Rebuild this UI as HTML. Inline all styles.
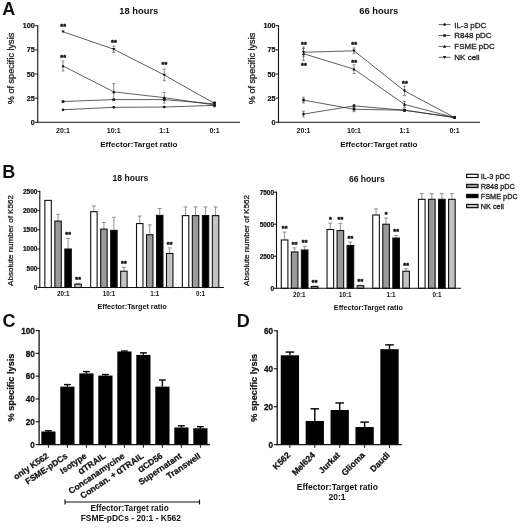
<!DOCTYPE html>
<html lang="en">
<head>
<meta charset="utf-8">
<title>Figure</title>
<style>
html,body{margin:0;padding:0;background:#fff;}
body{width:520px;height:529px;overflow:hidden;}
svg{display:block;font-family:"Liberation Sans", Arial, Helvetica, sans-serif;}
</style>
</head>
<body>
<svg width="520" height="529" viewBox="0 0 520 529" font-family='"Liberation Sans", Arial, Helvetica, sans-serif'>
<rect x="0" y="0" width="520" height="529" fill="#ffffff"/>
<text x="2.20" y="14.90" font-size="18" font-weight="bold" text-anchor="start" fill="#111">A</text>
<line x1="37.75" y1="25.20" x2="37.75" y2="122.80" stroke="#111" stroke-width="1.1"/>
<line x1="37.25" y1="122.30" x2="240.00" y2="122.30" stroke="#111" stroke-width="1.1"/>
<line x1="35.15" y1="122.30" x2="37.75" y2="122.30" stroke="#111" stroke-width="1.0"/>
<text x="34.75" y="124.90" font-size="7.2" font-weight="bold" text-anchor="end" fill="#111" stroke="#111" stroke-width="0.22">0</text>
<line x1="35.15" y1="98.15" x2="37.75" y2="98.15" stroke="#111" stroke-width="1.0"/>
<text x="34.75" y="100.75" font-size="7.2" font-weight="bold" text-anchor="end" fill="#111" stroke="#111" stroke-width="0.22">25</text>
<line x1="35.15" y1="74.00" x2="37.75" y2="74.00" stroke="#111" stroke-width="1.0"/>
<text x="34.75" y="76.60" font-size="7.2" font-weight="bold" text-anchor="end" fill="#111" stroke="#111" stroke-width="0.22">50</text>
<line x1="35.15" y1="49.85" x2="37.75" y2="49.85" stroke="#111" stroke-width="1.0"/>
<text x="34.75" y="52.45" font-size="7.2" font-weight="bold" text-anchor="end" fill="#111" stroke="#111" stroke-width="0.22">75</text>
<line x1="35.15" y1="25.70" x2="37.75" y2="25.70" stroke="#111" stroke-width="1.0"/>
<text x="34.75" y="28.30" font-size="7.2" font-weight="bold" text-anchor="end" fill="#111" stroke="#111" stroke-width="0.22">100</text>
<text x="63.00" y="132.50" font-size="7.0" font-weight="bold" text-anchor="middle" fill="#111">20:1</text>
<text x="113.75" y="132.50" font-size="7.0" font-weight="bold" text-anchor="middle" fill="#111">10:1</text>
<text x="164.25" y="132.50" font-size="7.0" font-weight="bold" text-anchor="middle" fill="#111">1:1</text>
<text x="214.50" y="132.50" font-size="7.0" font-weight="bold" text-anchor="middle" fill="#111">0:1</text>
<text x="138.80" y="146.90" font-size="8.1" font-weight="bold" text-anchor="middle" fill="#111">Effector:Target ratio</text>
<text x="138.80" y="14.30" font-size="9.4" font-weight="bold" text-anchor="middle" fill="#111">18 hours</text>
<text x="14.25" y="68.50" font-size="9.15" font-weight="normal" text-anchor="middle" fill="#111" transform="rotate(-90 14.25 68.50)" stroke="#222" stroke-width="0.28">% of specific lysis</text>
<polyline fill="none" stroke="#2a2a2a" stroke-width="0.75" points="63.00,109.74 113.75,107.33 164.25,107.04 214.50,105.39"/>
<circle cx="63.00" cy="109.74" r="1.30" fill="#111"/>
<circle cx="113.75" cy="107.33" r="1.30" fill="#111"/>
<circle cx="164.25" cy="107.04" r="1.30" fill="#111"/>
<circle cx="214.50" cy="105.39" r="1.30" fill="#111"/>
<polyline fill="none" stroke="#2a2a2a" stroke-width="0.75" points="63.00,101.53 113.75,99.60 164.25,99.60 214.50,103.95"/>
<line x1="164.25" y1="98.83" x2="164.25" y2="100.37" stroke="#444" stroke-width="0.6"/>
<line x1="162.75" y1="98.83" x2="165.75" y2="98.83" stroke="#444" stroke-width="0.6"/>
<line x1="162.75" y1="100.37" x2="165.75" y2="100.37" stroke="#444" stroke-width="0.6"/>
<line x1="214.50" y1="101.82" x2="214.50" y2="106.07" stroke="#444" stroke-width="0.6"/>
<line x1="213.00" y1="101.82" x2="216.00" y2="101.82" stroke="#444" stroke-width="0.6"/>
<line x1="213.00" y1="106.07" x2="216.00" y2="106.07" stroke="#444" stroke-width="0.6"/>
<rect x="61.70" y="100.23" width="2.60" height="2.60" fill="#111"/>
<rect x="112.45" y="98.30" width="2.60" height="2.60" fill="#111"/>
<rect x="162.95" y="98.30" width="2.60" height="2.60" fill="#111"/>
<rect x="213.20" y="102.65" width="2.60" height="2.60" fill="#111"/>
<polyline fill="none" stroke="#2a2a2a" stroke-width="0.75" points="63.00,65.98 113.75,91.87 164.25,97.67 214.50,104.91"/>
<line x1="63.00" y1="60.96" x2="63.00" y2="71.01" stroke="#444" stroke-width="0.6"/>
<line x1="61.50" y1="60.96" x2="64.50" y2="60.96" stroke="#444" stroke-width="0.6"/>
<line x1="61.50" y1="71.01" x2="64.50" y2="71.01" stroke="#444" stroke-width="0.6"/>
<line x1="113.75" y1="83.66" x2="113.75" y2="100.08" stroke="#444" stroke-width="0.6"/>
<line x1="112.25" y1="83.66" x2="115.25" y2="83.66" stroke="#444" stroke-width="0.6"/>
<line x1="112.25" y1="100.08" x2="115.25" y2="100.08" stroke="#444" stroke-width="0.6"/>
<line x1="164.25" y1="92.35" x2="164.25" y2="102.98" stroke="#444" stroke-width="0.6"/>
<line x1="162.75" y1="92.35" x2="165.75" y2="92.35" stroke="#444" stroke-width="0.6"/>
<line x1="162.75" y1="102.98" x2="165.75" y2="102.98" stroke="#444" stroke-width="0.6"/>
<line x1="214.50" y1="102.98" x2="214.50" y2="106.84" stroke="#444" stroke-width="0.6"/>
<line x1="213.00" y1="102.98" x2="216.00" y2="102.98" stroke="#444" stroke-width="0.6"/>
<line x1="213.00" y1="106.84" x2="216.00" y2="106.84" stroke="#444" stroke-width="0.6"/>
<polygon points="61.40,67.28 64.60,67.28 63.00,64.38" fill="#111"/>
<polygon points="112.15,93.17 115.35,93.17 113.75,90.27" fill="#111"/>
<polygon points="162.65,98.97 165.85,98.97 164.25,96.07" fill="#111"/>
<polygon points="212.90,106.21 216.10,106.21 214.50,103.31" fill="#111"/>
<polyline fill="none" stroke="#2a2a2a" stroke-width="0.75" points="63.00,31.69 113.75,49.27 164.25,74.97 214.50,103.46"/>
<line x1="113.75" y1="46.18" x2="113.75" y2="52.36" stroke="#444" stroke-width="0.6"/>
<line x1="112.25" y1="46.18" x2="115.25" y2="46.18" stroke="#444" stroke-width="0.6"/>
<line x1="112.25" y1="52.36" x2="115.25" y2="52.36" stroke="#444" stroke-width="0.6"/>
<line x1="164.25" y1="69.17" x2="164.25" y2="80.76" stroke="#444" stroke-width="0.6"/>
<line x1="162.75" y1="69.17" x2="165.75" y2="69.17" stroke="#444" stroke-width="0.6"/>
<line x1="162.75" y1="80.76" x2="165.75" y2="80.76" stroke="#444" stroke-width="0.6"/>
<line x1="214.50" y1="102.01" x2="214.50" y2="104.91" stroke="#444" stroke-width="0.6"/>
<line x1="213.00" y1="102.01" x2="216.00" y2="102.01" stroke="#444" stroke-width="0.6"/>
<line x1="213.00" y1="104.91" x2="216.00" y2="104.91" stroke="#444" stroke-width="0.6"/>
<polygon points="61.40,30.39 64.60,30.39 63.00,33.29" fill="#111"/>
<polygon points="112.15,47.97 115.35,47.97 113.75,50.87" fill="#111"/>
<polygon points="162.65,73.67 165.85,73.67 164.25,76.57" fill="#111"/>
<polygon points="212.90,102.16 216.10,102.16 214.50,105.06" fill="#111"/>
<text x="63.30" y="29.02" font-size="7.2" font-weight="bold" text-anchor="middle" fill="#111" stroke="#111" stroke-width="0.45" letter-spacing="0.25">**</text>
<text x="114.00" y="45.02" font-size="7.2" font-weight="bold" text-anchor="middle" fill="#111" stroke="#111" stroke-width="0.45" letter-spacing="0.25">**</text>
<text x="63.30" y="60.02" font-size="7.2" font-weight="bold" text-anchor="middle" fill="#111" stroke="#111" stroke-width="0.45" letter-spacing="0.25">**</text>
<text x="164.60" y="67.02" font-size="7.2" font-weight="bold" text-anchor="middle" fill="#111" stroke="#111" stroke-width="0.45" letter-spacing="0.25">**</text>
<line x1="278.50" y1="25.20" x2="278.50" y2="122.80" stroke="#111" stroke-width="1.1"/>
<line x1="278.00" y1="122.30" x2="480.00" y2="122.30" stroke="#111" stroke-width="1.1"/>
<line x1="275.90" y1="122.30" x2="278.50" y2="122.30" stroke="#111" stroke-width="1.0"/>
<text x="275.50" y="124.90" font-size="7.2" font-weight="bold" text-anchor="end" fill="#111" stroke="#111" stroke-width="0.22">0</text>
<line x1="275.90" y1="98.15" x2="278.50" y2="98.15" stroke="#111" stroke-width="1.0"/>
<text x="275.50" y="100.75" font-size="7.2" font-weight="bold" text-anchor="end" fill="#111" stroke="#111" stroke-width="0.22">25</text>
<line x1="275.90" y1="74.00" x2="278.50" y2="74.00" stroke="#111" stroke-width="1.0"/>
<text x="275.50" y="76.60" font-size="7.2" font-weight="bold" text-anchor="end" fill="#111" stroke="#111" stroke-width="0.22">50</text>
<line x1="275.90" y1="49.85" x2="278.50" y2="49.85" stroke="#111" stroke-width="1.0"/>
<text x="275.50" y="52.45" font-size="7.2" font-weight="bold" text-anchor="end" fill="#111" stroke="#111" stroke-width="0.22">75</text>
<line x1="275.90" y1="25.70" x2="278.50" y2="25.70" stroke="#111" stroke-width="1.0"/>
<text x="275.50" y="28.30" font-size="7.2" font-weight="bold" text-anchor="end" fill="#111" stroke="#111" stroke-width="0.22">100</text>
<text x="303.50" y="132.50" font-size="7.0" font-weight="bold" text-anchor="middle" fill="#111">20:1</text>
<text x="354.00" y="132.50" font-size="7.0" font-weight="bold" text-anchor="middle" fill="#111">10:1</text>
<text x="404.50" y="132.50" font-size="7.0" font-weight="bold" text-anchor="middle" fill="#111">1:1</text>
<text x="454.50" y="132.50" font-size="7.0" font-weight="bold" text-anchor="middle" fill="#111">0:1</text>
<text x="378.80" y="146.90" font-size="8.1" font-weight="bold" text-anchor="middle" fill="#111">Effector:Target ratio</text>
<text x="378.80" y="14.30" font-size="9.4" font-weight="bold" text-anchor="middle" fill="#111">66 hours</text>
<text x="255.00" y="68.50" font-size="9.15" font-weight="normal" text-anchor="middle" fill="#111" transform="rotate(-90 255.00 68.50)" stroke="#222" stroke-width="0.28">% of specific lysis</text>
<polyline fill="none" stroke="#2a2a2a" stroke-width="0.75" points="303.50,114.09 354.00,105.88 404.50,110.22 454.50,117.47"/>
<line x1="303.50" y1="111.19" x2="303.50" y2="116.99" stroke="#444" stroke-width="0.6"/>
<line x1="302.00" y1="111.19" x2="305.00" y2="111.19" stroke="#444" stroke-width="0.6"/>
<line x1="302.00" y1="116.99" x2="305.00" y2="116.99" stroke="#444" stroke-width="0.6"/>
<line x1="354.00" y1="104.43" x2="354.00" y2="107.33" stroke="#444" stroke-width="0.6"/>
<line x1="352.50" y1="104.43" x2="355.50" y2="104.43" stroke="#444" stroke-width="0.6"/>
<line x1="352.50" y1="107.33" x2="355.50" y2="107.33" stroke="#444" stroke-width="0.6"/>
<line x1="404.50" y1="109.26" x2="404.50" y2="111.19" stroke="#444" stroke-width="0.6"/>
<line x1="403.00" y1="109.26" x2="406.00" y2="109.26" stroke="#444" stroke-width="0.6"/>
<line x1="403.00" y1="111.19" x2="406.00" y2="111.19" stroke="#444" stroke-width="0.6"/>
<line x1="454.50" y1="116.99" x2="454.50" y2="117.95" stroke="#444" stroke-width="0.6"/>
<line x1="453.00" y1="116.99" x2="456.00" y2="116.99" stroke="#444" stroke-width="0.6"/>
<line x1="453.00" y1="117.95" x2="456.00" y2="117.95" stroke="#444" stroke-width="0.6"/>
<circle cx="303.50" cy="114.09" r="1.30" fill="#111"/>
<circle cx="354.00" cy="105.88" r="1.30" fill="#111"/>
<circle cx="404.50" cy="110.22" r="1.30" fill="#111"/>
<circle cx="454.50" cy="117.47" r="1.30" fill="#111"/>
<polyline fill="none" stroke="#2a2a2a" stroke-width="0.75" points="303.50,100.08 354.00,109.26 404.50,110.22 454.50,117.47"/>
<line x1="303.50" y1="97.18" x2="303.50" y2="102.98" stroke="#444" stroke-width="0.6"/>
<line x1="302.00" y1="97.18" x2="305.00" y2="97.18" stroke="#444" stroke-width="0.6"/>
<line x1="302.00" y1="102.98" x2="305.00" y2="102.98" stroke="#444" stroke-width="0.6"/>
<line x1="354.00" y1="106.84" x2="354.00" y2="111.67" stroke="#444" stroke-width="0.6"/>
<line x1="352.50" y1="106.84" x2="355.50" y2="106.84" stroke="#444" stroke-width="0.6"/>
<line x1="352.50" y1="111.67" x2="355.50" y2="111.67" stroke="#444" stroke-width="0.6"/>
<line x1="404.50" y1="109.26" x2="404.50" y2="111.19" stroke="#444" stroke-width="0.6"/>
<line x1="403.00" y1="109.26" x2="406.00" y2="109.26" stroke="#444" stroke-width="0.6"/>
<line x1="403.00" y1="111.19" x2="406.00" y2="111.19" stroke="#444" stroke-width="0.6"/>
<line x1="454.50" y1="116.99" x2="454.50" y2="117.95" stroke="#444" stroke-width="0.6"/>
<line x1="453.00" y1="116.99" x2="456.00" y2="116.99" stroke="#444" stroke-width="0.6"/>
<line x1="453.00" y1="117.95" x2="456.00" y2="117.95" stroke="#444" stroke-width="0.6"/>
<rect x="302.20" y="98.78" width="2.60" height="2.60" fill="#111"/>
<rect x="352.70" y="107.96" width="2.60" height="2.60" fill="#111"/>
<rect x="403.20" y="108.92" width="2.60" height="2.60" fill="#111"/>
<rect x="453.20" y="116.17" width="2.60" height="2.60" fill="#111"/>
<polyline fill="none" stroke="#2a2a2a" stroke-width="0.75" points="303.50,53.71 354.00,69.17 404.50,104.43 454.50,117.47"/>
<line x1="303.50" y1="46.95" x2="303.50" y2="60.48" stroke="#444" stroke-width="0.6"/>
<line x1="302.00" y1="46.95" x2="305.00" y2="46.95" stroke="#444" stroke-width="0.6"/>
<line x1="302.00" y1="60.48" x2="305.00" y2="60.48" stroke="#444" stroke-width="0.6"/>
<line x1="354.00" y1="64.82" x2="354.00" y2="73.52" stroke="#444" stroke-width="0.6"/>
<line x1="352.50" y1="64.82" x2="355.50" y2="64.82" stroke="#444" stroke-width="0.6"/>
<line x1="352.50" y1="73.52" x2="355.50" y2="73.52" stroke="#444" stroke-width="0.6"/>
<line x1="404.50" y1="101.53" x2="404.50" y2="107.33" stroke="#444" stroke-width="0.6"/>
<line x1="403.00" y1="101.53" x2="406.00" y2="101.53" stroke="#444" stroke-width="0.6"/>
<line x1="403.00" y1="107.33" x2="406.00" y2="107.33" stroke="#444" stroke-width="0.6"/>
<line x1="454.50" y1="116.99" x2="454.50" y2="117.95" stroke="#444" stroke-width="0.6"/>
<line x1="453.00" y1="116.99" x2="456.00" y2="116.99" stroke="#444" stroke-width="0.6"/>
<line x1="453.00" y1="117.95" x2="456.00" y2="117.95" stroke="#444" stroke-width="0.6"/>
<polygon points="301.90,55.01 305.10,55.01 303.50,52.11" fill="#111"/>
<polygon points="352.40,70.47 355.60,70.47 354.00,67.57" fill="#111"/>
<polygon points="402.90,105.73 406.10,105.73 404.50,102.83" fill="#111"/>
<polygon points="452.90,118.77 456.10,118.77 454.50,115.87" fill="#111"/>
<polyline fill="none" stroke="#2a2a2a" stroke-width="0.75" points="303.50,52.27 354.00,50.82 404.50,90.91 454.50,117.47"/>
<line x1="303.50" y1="48.40" x2="303.50" y2="56.13" stroke="#444" stroke-width="0.6"/>
<line x1="302.00" y1="48.40" x2="305.00" y2="48.40" stroke="#444" stroke-width="0.6"/>
<line x1="302.00" y1="56.13" x2="305.00" y2="56.13" stroke="#444" stroke-width="0.6"/>
<line x1="354.00" y1="47.92" x2="354.00" y2="53.71" stroke="#444" stroke-width="0.6"/>
<line x1="352.50" y1="47.92" x2="355.50" y2="47.92" stroke="#444" stroke-width="0.6"/>
<line x1="352.50" y1="53.71" x2="355.50" y2="53.71" stroke="#444" stroke-width="0.6"/>
<line x1="404.50" y1="86.08" x2="404.50" y2="95.73" stroke="#444" stroke-width="0.6"/>
<line x1="403.00" y1="86.08" x2="406.00" y2="86.08" stroke="#444" stroke-width="0.6"/>
<line x1="403.00" y1="95.73" x2="406.00" y2="95.73" stroke="#444" stroke-width="0.6"/>
<line x1="454.50" y1="116.99" x2="454.50" y2="117.95" stroke="#444" stroke-width="0.6"/>
<line x1="453.00" y1="116.99" x2="456.00" y2="116.99" stroke="#444" stroke-width="0.6"/>
<line x1="453.00" y1="117.95" x2="456.00" y2="117.95" stroke="#444" stroke-width="0.6"/>
<polygon points="301.90,50.97 305.10,50.97 303.50,53.86" fill="#111"/>
<polygon points="352.40,49.52 355.60,49.52 354.00,52.42" fill="#111"/>
<polygon points="402.90,89.61 406.10,89.61 404.50,92.50" fill="#111"/>
<polygon points="452.90,116.17 456.10,116.17 454.50,119.07" fill="#111"/>
<text x="304.00" y="46.82" font-size="7.2" font-weight="bold" text-anchor="middle" fill="#111" stroke="#111" stroke-width="0.45" letter-spacing="0.25">**</text>
<text x="304.00" y="67.82" font-size="7.2" font-weight="bold" text-anchor="middle" fill="#111" stroke="#111" stroke-width="0.45" letter-spacing="0.25">**</text>
<text x="354.30" y="47.02" font-size="7.2" font-weight="bold" text-anchor="middle" fill="#111" stroke="#111" stroke-width="0.45" letter-spacing="0.25">**</text>
<text x="354.30" y="64.82" font-size="7.2" font-weight="bold" text-anchor="middle" fill="#111" stroke="#111" stroke-width="0.45" letter-spacing="0.25">**</text>
<text x="405.10" y="86.32" font-size="7.2" font-weight="bold" text-anchor="middle" fill="#111" stroke="#111" stroke-width="0.45" letter-spacing="0.25">**</text>
<line x1="438.70" y1="24.60" x2="450.60" y2="24.60" stroke="#333" stroke-width="0.75"/>
<circle cx="444.60" cy="24.60" r="1.30" fill="#111"/>
<text x="454.30" y="27.50" font-size="8" font-weight="normal" text-anchor="start" fill="#111" stroke="#222" stroke-width="0.28">IL-3 pDC</text>
<line x1="438.70" y1="35.50" x2="450.60" y2="35.50" stroke="#333" stroke-width="0.75"/>
<rect x="443.30" y="34.20" width="2.60" height="2.60" fill="#111"/>
<text x="454.30" y="38.40" font-size="8" font-weight="normal" text-anchor="start" fill="#111" stroke="#222" stroke-width="0.28">R848 pDC</text>
<line x1="438.70" y1="46.40" x2="450.60" y2="46.40" stroke="#333" stroke-width="0.75"/>
<polygon points="443.00,47.70 446.20,47.70 444.60,44.80" fill="#111"/>
<text x="454.30" y="49.30" font-size="8" font-weight="normal" text-anchor="start" fill="#111" stroke="#222" stroke-width="0.28">FSME pDC</text>
<line x1="438.70" y1="57.30" x2="450.60" y2="57.30" stroke="#333" stroke-width="0.75"/>
<polygon points="443.00,56.00 446.20,56.00 444.60,58.90" fill="#111"/>
<text x="454.30" y="60.20" font-size="8" font-weight="normal" text-anchor="start" fill="#111" stroke="#222" stroke-width="0.28">NK cell</text>
<text x="2.20" y="177.50" font-size="18" font-weight="bold" text-anchor="start" fill="#111">B</text>
<rect x="44.85" y="200.38" width="6.45" height="87.12" fill="#ffffff" stroke="#111" stroke-width="1.1"/>
<line x1="58.08" y1="221.12" x2="58.08" y2="214.39" stroke="#777" stroke-width="0.8"/>
<line x1="56.08" y1="214.39" x2="60.08" y2="214.39" stroke="#777" stroke-width="0.8"/>
<rect x="54.85" y="221.12" width="6.45" height="66.38" fill="#9a9a9a" stroke="#111" stroke-width="1.1"/>
<line x1="68.07" y1="249.02" x2="68.07" y2="238.44" stroke="#777" stroke-width="0.8"/>
<line x1="66.07" y1="238.44" x2="70.07" y2="238.44" stroke="#777" stroke-width="0.8"/>
<rect x="64.85" y="249.02" width="6.45" height="38.48" fill="#000000" stroke="#111" stroke-width="1.1"/>
<line x1="78.07" y1="284.23" x2="78.07" y2="283.27" stroke="#777" stroke-width="0.8"/>
<line x1="76.07" y1="283.27" x2="80.07" y2="283.27" stroke="#777" stroke-width="0.8"/>
<rect x="74.85" y="284.23" width="6.45" height="3.27" fill="#c4c4c4" stroke="#111" stroke-width="1.1"/>
<line x1="93.91" y1="211.69" x2="93.91" y2="205.92" stroke="#777" stroke-width="0.8"/>
<line x1="91.91" y1="205.92" x2="95.91" y2="205.92" stroke="#777" stroke-width="0.8"/>
<rect x="90.68" y="211.69" width="6.45" height="75.81" fill="#ffffff" stroke="#111" stroke-width="1.1"/>
<line x1="103.91" y1="229.13" x2="103.91" y2="222.39" stroke="#777" stroke-width="0.8"/>
<line x1="101.91" y1="222.39" x2="105.91" y2="222.39" stroke="#777" stroke-width="0.8"/>
<rect x="100.68" y="229.13" width="6.45" height="58.37" fill="#9a9a9a" stroke="#111" stroke-width="1.1"/>
<line x1="113.91" y1="230.40" x2="113.91" y2="217.31" stroke="#777" stroke-width="0.8"/>
<line x1="111.91" y1="217.31" x2="115.91" y2="217.31" stroke="#777" stroke-width="0.8"/>
<rect x="110.68" y="230.40" width="6.45" height="57.10" fill="#000000" stroke="#111" stroke-width="1.1"/>
<line x1="123.91" y1="271.22" x2="123.91" y2="267.37" stroke="#777" stroke-width="0.8"/>
<line x1="121.91" y1="267.37" x2="125.91" y2="267.37" stroke="#777" stroke-width="0.8"/>
<rect x="120.68" y="271.22" width="6.45" height="16.28" fill="#c4c4c4" stroke="#111" stroke-width="1.1"/>
<line x1="139.73" y1="223.55" x2="139.73" y2="216.04" stroke="#777" stroke-width="0.8"/>
<line x1="137.73" y1="216.04" x2="141.73" y2="216.04" stroke="#777" stroke-width="0.8"/>
<rect x="136.51" y="223.55" width="6.45" height="63.95" fill="#ffffff" stroke="#111" stroke-width="1.1"/>
<line x1="149.73" y1="234.71" x2="149.73" y2="224.89" stroke="#777" stroke-width="0.8"/>
<line x1="147.73" y1="224.89" x2="151.73" y2="224.89" stroke="#777" stroke-width="0.8"/>
<rect x="146.51" y="234.71" width="6.45" height="52.79" fill="#9a9a9a" stroke="#111" stroke-width="1.1"/>
<line x1="159.73" y1="215.39" x2="159.73" y2="208.46" stroke="#777" stroke-width="0.8"/>
<line x1="157.73" y1="208.46" x2="161.73" y2="208.46" stroke="#777" stroke-width="0.8"/>
<rect x="156.51" y="215.39" width="6.45" height="72.11" fill="#000000" stroke="#111" stroke-width="1.1"/>
<line x1="169.73" y1="253.48" x2="169.73" y2="247.90" stroke="#777" stroke-width="0.8"/>
<line x1="167.73" y1="247.90" x2="171.73" y2="247.90" stroke="#777" stroke-width="0.8"/>
<rect x="166.51" y="253.48" width="6.45" height="34.02" fill="#c4c4c4" stroke="#111" stroke-width="1.1"/>
<line x1="185.56" y1="215.62" x2="185.56" y2="206.96" stroke="#777" stroke-width="0.8"/>
<line x1="183.56" y1="206.96" x2="187.56" y2="206.96" stroke="#777" stroke-width="0.8"/>
<rect x="182.34" y="215.62" width="6.45" height="71.88" fill="#ffffff" stroke="#111" stroke-width="1.1"/>
<line x1="195.56" y1="215.62" x2="195.56" y2="206.96" stroke="#777" stroke-width="0.8"/>
<line x1="193.56" y1="206.96" x2="197.56" y2="206.96" stroke="#777" stroke-width="0.8"/>
<rect x="192.34" y="215.62" width="6.45" height="71.88" fill="#9a9a9a" stroke="#111" stroke-width="1.1"/>
<line x1="205.56" y1="215.62" x2="205.56" y2="206.96" stroke="#777" stroke-width="0.8"/>
<line x1="203.56" y1="206.96" x2="207.56" y2="206.96" stroke="#777" stroke-width="0.8"/>
<rect x="202.34" y="215.62" width="6.45" height="71.88" fill="#000000" stroke="#111" stroke-width="1.1"/>
<line x1="215.56" y1="215.62" x2="215.56" y2="206.96" stroke="#777" stroke-width="0.8"/>
<line x1="213.56" y1="206.96" x2="217.56" y2="206.96" stroke="#777" stroke-width="0.8"/>
<rect x="212.34" y="215.62" width="6.45" height="71.88" fill="#c4c4c4" stroke="#111" stroke-width="1.1"/>
<line x1="39.80" y1="190.80" x2="39.80" y2="288.00" stroke="#111" stroke-width="1.1"/>
<line x1="39.30" y1="287.50" x2="224.00" y2="287.50" stroke="#111" stroke-width="1.1"/>
<line x1="37.40" y1="287.50" x2="39.80" y2="287.50" stroke="#111" stroke-width="1.0"/>
<text x="37.40" y="289.85" font-size="6.5" font-weight="bold" text-anchor="end" fill="#111" stroke="#111" stroke-width="0.22">0</text>
<line x1="37.40" y1="268.26" x2="39.80" y2="268.26" stroke="#111" stroke-width="1.0"/>
<text x="37.40" y="270.61" font-size="6.5" font-weight="bold" text-anchor="end" fill="#111" stroke="#111" stroke-width="0.22">500</text>
<line x1="37.40" y1="249.02" x2="39.80" y2="249.02" stroke="#111" stroke-width="1.0"/>
<text x="37.40" y="251.37" font-size="6.5" font-weight="bold" text-anchor="end" fill="#111" stroke="#111" stroke-width="0.22">1000</text>
<line x1="37.40" y1="229.78" x2="39.80" y2="229.78" stroke="#111" stroke-width="1.0"/>
<text x="37.40" y="232.13" font-size="6.5" font-weight="bold" text-anchor="end" fill="#111" stroke="#111" stroke-width="0.22">1500</text>
<line x1="37.40" y1="210.54" x2="39.80" y2="210.54" stroke="#111" stroke-width="1.0"/>
<text x="37.40" y="212.89" font-size="6.5" font-weight="bold" text-anchor="end" fill="#111" stroke="#111" stroke-width="0.22">2000</text>
<line x1="37.40" y1="191.30" x2="39.80" y2="191.30" stroke="#111" stroke-width="1.0"/>
<text x="37.40" y="193.65" font-size="6.5" font-weight="bold" text-anchor="end" fill="#111" stroke="#111" stroke-width="0.22">2500</text>
<text x="63.20" y="296.25" font-size="6.3" font-weight="bold" text-anchor="middle" fill="#111">20:1</text>
<text x="109.00" y="296.25" font-size="6.3" font-weight="bold" text-anchor="middle" fill="#111">10:1</text>
<text x="154.80" y="296.25" font-size="6.3" font-weight="bold" text-anchor="middle" fill="#111">1:1</text>
<text x="200.50" y="296.25" font-size="6.3" font-weight="bold" text-anchor="middle" fill="#111">0:1</text>
<text x="132.00" y="309.10" font-size="7.25" font-weight="bold" text-anchor="middle" fill="#111">Effector:Target ratio</text>
<text x="130.40" y="181.10" font-size="8.6" font-weight="bold" text-anchor="middle" fill="#111">18 hours</text>
<text x="13.00" y="240.50" font-size="8.05" font-weight="normal" text-anchor="middle" fill="#111" transform="rotate(-90 13.00 240.50)" stroke="#222" stroke-width="0.28">Absolute number of K562</text>
<text x="68.17" y="237.15" font-size="7.0" font-weight="bold" text-anchor="middle" fill="#111" stroke="#111" stroke-width="0.45" letter-spacing="0.25">**</text>
<text x="78.17" y="281.98" font-size="7.0" font-weight="bold" text-anchor="middle" fill="#111" stroke="#111" stroke-width="0.45" letter-spacing="0.25">**</text>
<text x="124.00" y="266.08" font-size="7.0" font-weight="bold" text-anchor="middle" fill="#111" stroke="#111" stroke-width="0.45" letter-spacing="0.25">**</text>
<text x="169.83" y="246.61" font-size="7.0" font-weight="bold" text-anchor="middle" fill="#111" stroke="#111" stroke-width="0.45" letter-spacing="0.25">**</text>
<line x1="284.60" y1="239.99" x2="284.60" y2="232.05" stroke="#777" stroke-width="0.8"/>
<line x1="282.60" y1="232.05" x2="286.60" y2="232.05" stroke="#777" stroke-width="0.8"/>
<rect x="281.30" y="239.99" width="6.60" height="48.31" fill="#ffffff" stroke="#111" stroke-width="1.1"/>
<line x1="294.63" y1="251.97" x2="294.63" y2="247.87" stroke="#777" stroke-width="0.8"/>
<line x1="292.63" y1="247.87" x2="296.63" y2="247.87" stroke="#777" stroke-width="0.8"/>
<rect x="291.33" y="251.97" width="6.60" height="36.33" fill="#9a9a9a" stroke="#111" stroke-width="1.1"/>
<line x1="304.66" y1="249.99" x2="304.66" y2="246.27" stroke="#777" stroke-width="0.8"/>
<line x1="302.66" y1="246.27" x2="306.66" y2="246.27" stroke="#777" stroke-width="0.8"/>
<rect x="301.36" y="249.99" width="6.60" height="38.31" fill="#000000" stroke="#111" stroke-width="1.1"/>
<line x1="314.69" y1="286.51" x2="314.69" y2="286.12" stroke="#777" stroke-width="0.8"/>
<line x1="312.69" y1="286.12" x2="316.69" y2="286.12" stroke="#777" stroke-width="0.8"/>
<rect x="311.39" y="286.51" width="6.60" height="1.79" fill="#c4c4c4" stroke="#111" stroke-width="1.1"/>
<line x1="330.33" y1="229.53" x2="330.33" y2="223.12" stroke="#777" stroke-width="0.8"/>
<line x1="328.33" y1="223.12" x2="332.33" y2="223.12" stroke="#777" stroke-width="0.8"/>
<rect x="327.03" y="229.53" width="6.60" height="58.77" fill="#ffffff" stroke="#111" stroke-width="1.1"/>
<line x1="340.36" y1="230.52" x2="340.36" y2="223.35" stroke="#777" stroke-width="0.8"/>
<line x1="338.36" y1="223.35" x2="342.36" y2="223.35" stroke="#777" stroke-width="0.8"/>
<rect x="337.06" y="230.52" width="6.60" height="57.78" fill="#9a9a9a" stroke="#111" stroke-width="1.1"/>
<line x1="350.39" y1="245.49" x2="350.39" y2="242.03" stroke="#777" stroke-width="0.8"/>
<line x1="348.39" y1="242.03" x2="352.39" y2="242.03" stroke="#777" stroke-width="0.8"/>
<rect x="347.09" y="245.49" width="6.60" height="42.81" fill="#000000" stroke="#111" stroke-width="1.1"/>
<line x1="360.42" y1="285.74" x2="360.42" y2="285.22" stroke="#777" stroke-width="0.8"/>
<line x1="358.42" y1="285.22" x2="362.42" y2="285.22" stroke="#777" stroke-width="0.8"/>
<rect x="357.12" y="285.74" width="6.60" height="2.56" fill="#c4c4c4" stroke="#111" stroke-width="1.1"/>
<line x1="376.06" y1="215.01" x2="376.06" y2="208.86" stroke="#777" stroke-width="0.8"/>
<line x1="374.06" y1="208.86" x2="378.06" y2="208.86" stroke="#777" stroke-width="0.8"/>
<rect x="372.76" y="215.01" width="6.60" height="73.29" fill="#ffffff" stroke="#111" stroke-width="1.1"/>
<line x1="386.09" y1="224.23" x2="386.09" y2="218.08" stroke="#777" stroke-width="0.8"/>
<line x1="384.09" y1="218.08" x2="388.09" y2="218.08" stroke="#777" stroke-width="0.8"/>
<rect x="382.79" y="224.23" width="6.60" height="64.07" fill="#9a9a9a" stroke="#111" stroke-width="1.1"/>
<line x1="396.12" y1="238.07" x2="396.12" y2="235.64" stroke="#777" stroke-width="0.8"/>
<line x1="394.12" y1="235.64" x2="398.12" y2="235.64" stroke="#777" stroke-width="0.8"/>
<rect x="392.82" y="238.07" width="6.60" height="50.23" fill="#000000" stroke="#111" stroke-width="1.1"/>
<line x1="406.15" y1="271.26" x2="406.15" y2="268.82" stroke="#777" stroke-width="0.8"/>
<line x1="404.15" y1="268.82" x2="408.15" y2="268.82" stroke="#777" stroke-width="0.8"/>
<rect x="402.85" y="271.26" width="6.60" height="17.04" fill="#c4c4c4" stroke="#111" stroke-width="1.1"/>
<line x1="421.79" y1="199.31" x2="421.79" y2="193.67" stroke="#777" stroke-width="0.8"/>
<line x1="419.79" y1="193.67" x2="423.79" y2="193.67" stroke="#777" stroke-width="0.8"/>
<rect x="418.49" y="199.31" width="6.60" height="88.99" fill="#ffffff" stroke="#111" stroke-width="1.1"/>
<line x1="431.82" y1="199.31" x2="431.82" y2="193.67" stroke="#777" stroke-width="0.8"/>
<line x1="429.82" y1="193.67" x2="433.82" y2="193.67" stroke="#777" stroke-width="0.8"/>
<rect x="428.52" y="199.31" width="6.60" height="88.99" fill="#9a9a9a" stroke="#111" stroke-width="1.1"/>
<line x1="441.85" y1="199.31" x2="441.85" y2="193.67" stroke="#777" stroke-width="0.8"/>
<line x1="439.85" y1="193.67" x2="443.85" y2="193.67" stroke="#777" stroke-width="0.8"/>
<rect x="438.55" y="199.31" width="6.60" height="88.99" fill="#000000" stroke="#111" stroke-width="1.1"/>
<line x1="451.88" y1="199.31" x2="451.88" y2="193.67" stroke="#777" stroke-width="0.8"/>
<line x1="449.88" y1="193.67" x2="453.88" y2="193.67" stroke="#777" stroke-width="0.8"/>
<rect x="448.58" y="199.31" width="6.60" height="88.99" fill="#c4c4c4" stroke="#111" stroke-width="1.1"/>
<line x1="276.50" y1="191.70" x2="276.50" y2="288.80" stroke="#111" stroke-width="1.1"/>
<line x1="276.00" y1="288.30" x2="461.00" y2="288.30" stroke="#111" stroke-width="1.1"/>
<line x1="274.10" y1="288.30" x2="276.50" y2="288.30" stroke="#111" stroke-width="1.0"/>
<text x="274.10" y="290.65" font-size="6.5" font-weight="bold" text-anchor="end" fill="#111" stroke="#111" stroke-width="0.22">0</text>
<line x1="274.10" y1="256.27" x2="276.50" y2="256.27" stroke="#111" stroke-width="1.0"/>
<text x="274.10" y="258.62" font-size="6.5" font-weight="bold" text-anchor="end" fill="#111" stroke="#111" stroke-width="0.22">2500</text>
<line x1="274.10" y1="224.23" x2="276.50" y2="224.23" stroke="#111" stroke-width="1.0"/>
<text x="274.10" y="226.58" font-size="6.5" font-weight="bold" text-anchor="end" fill="#111" stroke="#111" stroke-width="0.22">5000</text>
<line x1="274.10" y1="192.20" x2="276.50" y2="192.20" stroke="#111" stroke-width="1.0"/>
<text x="274.10" y="194.55" font-size="6.5" font-weight="bold" text-anchor="end" fill="#111" stroke="#111" stroke-width="0.22">7500</text>
<text x="299.20" y="297.05" font-size="6.3" font-weight="bold" text-anchor="middle" fill="#111">20:1</text>
<text x="345.20" y="297.05" font-size="6.3" font-weight="bold" text-anchor="middle" fill="#111">10:1</text>
<text x="391.00" y="297.05" font-size="6.3" font-weight="bold" text-anchor="middle" fill="#111">1:1</text>
<text x="437.00" y="297.05" font-size="6.3" font-weight="bold" text-anchor="middle" fill="#111">0:1</text>
<text x="368.40" y="309.90" font-size="7.25" font-weight="bold" text-anchor="middle" fill="#111">Effector:Target ratio</text>
<text x="366.80" y="181.90" font-size="8.6" font-weight="bold" text-anchor="middle" fill="#111">66 hours</text>
<text x="248.60" y="240.50" font-size="8.05" font-weight="normal" text-anchor="middle" fill="#111" transform="rotate(-90 248.60 240.50)" stroke="#222" stroke-width="0.28">Absolute number of K562</text>
<text x="284.70" y="230.76" font-size="7.0" font-weight="bold" text-anchor="middle" fill="#111" stroke="#111" stroke-width="0.45" letter-spacing="0.25">**</text>
<text x="294.73" y="246.58" font-size="7.0" font-weight="bold" text-anchor="middle" fill="#111" stroke="#111" stroke-width="0.45" letter-spacing="0.25">**</text>
<text x="304.76" y="244.98" font-size="7.0" font-weight="bold" text-anchor="middle" fill="#111" stroke="#111" stroke-width="0.45" letter-spacing="0.25">**</text>
<text x="314.79" y="284.83" font-size="7.0" font-weight="bold" text-anchor="middle" fill="#111" stroke="#111" stroke-width="0.45" letter-spacing="0.25">**</text>
<text x="330.43" y="221.83" font-size="7.0" font-weight="bold" text-anchor="middle" fill="#111" stroke="#111" stroke-width="0.45" letter-spacing="0.25">*</text>
<text x="340.46" y="222.06" font-size="7.0" font-weight="bold" text-anchor="middle" fill="#111" stroke="#111" stroke-width="0.45" letter-spacing="0.25">**</text>
<text x="350.49" y="240.74" font-size="7.0" font-weight="bold" text-anchor="middle" fill="#111" stroke="#111" stroke-width="0.45" letter-spacing="0.25">**</text>
<text x="360.52" y="283.93" font-size="7.0" font-weight="bold" text-anchor="middle" fill="#111" stroke="#111" stroke-width="0.45" letter-spacing="0.25">**</text>
<text x="386.19" y="216.79" font-size="7.0" font-weight="bold" text-anchor="middle" fill="#111" stroke="#111" stroke-width="0.45" letter-spacing="0.25">*</text>
<text x="396.22" y="234.35" font-size="7.0" font-weight="bold" text-anchor="middle" fill="#111" stroke="#111" stroke-width="0.45" letter-spacing="0.25">**</text>
<text x="406.25" y="267.53" font-size="7.0" font-weight="bold" text-anchor="middle" fill="#111" stroke="#111" stroke-width="0.45" letter-spacing="0.25">**</text>
<rect x="466.60" y="174.30" width="11.40" height="3.20" fill="#ffffff" stroke="#111" stroke-width="1.2"/>
<text x="480.80" y="178.60" font-size="7.3" font-weight="normal" text-anchor="start" fill="#111" stroke="#222" stroke-width="0.28">IL-3 pDC</text>
<rect x="466.60" y="184.35" width="11.40" height="3.20" fill="#9a9a9a" stroke="#111" stroke-width="1.2"/>
<text x="480.80" y="188.65" font-size="7.3" font-weight="normal" text-anchor="start" fill="#111" stroke="#222" stroke-width="0.28">R848 pDC</text>
<rect x="466.60" y="194.40" width="11.40" height="3.20" fill="#000000" stroke="#111" stroke-width="1.2"/>
<text x="480.80" y="198.70" font-size="7.3" font-weight="normal" text-anchor="start" fill="#111" stroke="#222" stroke-width="0.28">FSME pDC</text>
<rect x="466.60" y="204.45" width="11.40" height="3.20" fill="#c4c4c4" stroke="#111" stroke-width="1.2"/>
<text x="480.80" y="208.75" font-size="7.3" font-weight="normal" text-anchor="start" fill="#111" stroke="#222" stroke-width="0.28">NK cell</text>
<text x="2.40" y="327.00" font-size="18" font-weight="bold" text-anchor="start" fill="#111">C</text>
<line x1="48.40" y1="431.48" x2="48.40" y2="430.79" stroke="#000" stroke-width="1.4"/>
<line x1="45.00" y1="430.79" x2="51.80" y2="430.79" stroke="#000" stroke-width="1.4"/>
<rect x="41.30" y="431.48" width="14.20" height="13.12" fill="#000"/>
<line x1="48.40" y1="444.60" x2="48.40" y2="447.80" stroke="#111" stroke-width="1.0"/>
<text x="49.30" y="457.30" font-size="8.55" font-weight="bold" text-anchor="end" fill="#111" transform="rotate(-34.2 49.30 457.30)" stroke="#111" stroke-width="0.25">only K562</text>
<line x1="67.40" y1="386.64" x2="67.40" y2="384.58" stroke="#000" stroke-width="1.4"/>
<line x1="64.00" y1="384.58" x2="70.80" y2="384.58" stroke="#000" stroke-width="1.4"/>
<rect x="60.30" y="386.64" width="14.20" height="57.96" fill="#000"/>
<line x1="67.40" y1="444.60" x2="67.40" y2="447.80" stroke="#111" stroke-width="1.0"/>
<text x="68.30" y="457.30" font-size="8.55" font-weight="bold" text-anchor="end" fill="#111" transform="rotate(-34.2 68.30 457.30)" stroke="#111" stroke-width="0.25">FSME-pDCs</text>
<line x1="86.40" y1="373.40" x2="86.40" y2="371.58" stroke="#000" stroke-width="1.4"/>
<line x1="83.00" y1="371.58" x2="89.80" y2="371.58" stroke="#000" stroke-width="1.4"/>
<rect x="79.30" y="373.40" width="14.20" height="71.20" fill="#000"/>
<line x1="86.40" y1="444.60" x2="86.40" y2="447.80" stroke="#111" stroke-width="1.0"/>
<text x="87.30" y="457.30" font-size="8.55" font-weight="bold" text-anchor="end" fill="#111" transform="rotate(-34.2 87.30 457.30)" stroke="#111" stroke-width="0.25">Isotype</text>
<line x1="105.40" y1="375.57" x2="105.40" y2="374.54" stroke="#000" stroke-width="1.4"/>
<line x1="102.00" y1="374.54" x2="108.80" y2="374.54" stroke="#000" stroke-width="1.4"/>
<rect x="98.30" y="375.57" width="14.20" height="69.03" fill="#000"/>
<line x1="105.40" y1="444.60" x2="105.40" y2="447.80" stroke="#111" stroke-width="1.0"/>
<text x="106.30" y="457.30" font-size="8.55" font-weight="bold" text-anchor="end" fill="#111" transform="rotate(-34.2 106.30 457.30)" stroke="#111" stroke-width="0.25"><tspan font-weight="normal" font-size="9.8" stroke-width="0.5">&#945;</tspan>TRAIL</text>
<line x1="124.40" y1="351.49" x2="124.40" y2="351.04" stroke="#000" stroke-width="1.4"/>
<line x1="121.00" y1="351.04" x2="127.80" y2="351.04" stroke="#000" stroke-width="1.4"/>
<rect x="117.30" y="351.49" width="14.20" height="93.11" fill="#000"/>
<line x1="124.40" y1="444.60" x2="124.40" y2="447.80" stroke="#111" stroke-width="1.0"/>
<text x="125.30" y="457.30" font-size="8.55" font-weight="bold" text-anchor="end" fill="#111" transform="rotate(-34.2 125.30 457.30)" stroke="#111" stroke-width="0.25">Concanamycine</text>
<line x1="143.40" y1="354.92" x2="143.40" y2="352.86" stroke="#000" stroke-width="1.4"/>
<line x1="140.00" y1="352.86" x2="146.80" y2="352.86" stroke="#000" stroke-width="1.4"/>
<rect x="136.30" y="354.92" width="14.20" height="89.68" fill="#000"/>
<line x1="143.40" y1="444.60" x2="143.40" y2="447.80" stroke="#111" stroke-width="1.0"/>
<text x="144.30" y="457.30" font-size="8.55" font-weight="bold" text-anchor="end" fill="#111" transform="rotate(-34.2 144.30 457.30)" stroke="#111" stroke-width="0.25">Concan. + <tspan font-weight="normal" font-size="9.8" stroke-width="0.5">&#945;</tspan>TRAIL</text>
<line x1="162.40" y1="386.64" x2="162.40" y2="380.02" stroke="#000" stroke-width="1.4"/>
<line x1="159.00" y1="380.02" x2="165.80" y2="380.02" stroke="#000" stroke-width="1.4"/>
<rect x="155.30" y="386.64" width="14.20" height="57.96" fill="#000"/>
<line x1="162.40" y1="444.60" x2="162.40" y2="447.80" stroke="#111" stroke-width="1.0"/>
<text x="163.30" y="457.30" font-size="8.55" font-weight="bold" text-anchor="end" fill="#111" transform="rotate(-34.2 163.30 457.30)" stroke="#111" stroke-width="0.25"><tspan font-weight="normal" font-size="9.8" stroke-width="0.5">&#945;</tspan>CD56</text>
<line x1="181.40" y1="427.49" x2="181.40" y2="425.77" stroke="#000" stroke-width="1.4"/>
<line x1="178.00" y1="425.77" x2="184.80" y2="425.77" stroke="#000" stroke-width="1.4"/>
<rect x="174.30" y="427.49" width="14.20" height="17.12" fill="#000"/>
<line x1="181.40" y1="444.60" x2="181.40" y2="447.80" stroke="#111" stroke-width="1.0"/>
<text x="182.30" y="457.30" font-size="8.55" font-weight="bold" text-anchor="end" fill="#111" transform="rotate(-34.2 182.30 457.30)" stroke="#111" stroke-width="0.25">Supernatant</text>
<line x1="200.40" y1="428.28" x2="200.40" y2="426.69" stroke="#000" stroke-width="1.4"/>
<line x1="197.00" y1="426.69" x2="203.80" y2="426.69" stroke="#000" stroke-width="1.4"/>
<rect x="193.30" y="428.28" width="14.20" height="16.32" fill="#000"/>
<line x1="200.40" y1="444.60" x2="200.40" y2="447.80" stroke="#111" stroke-width="1.0"/>
<text x="201.30" y="457.30" font-size="8.55" font-weight="bold" text-anchor="end" fill="#111" transform="rotate(-34.2 201.30 457.30)" stroke="#111" stroke-width="0.25">Transwell</text>
<line x1="39.10" y1="330.00" x2="39.10" y2="445.10" stroke="#111" stroke-width="1.3"/>
<line x1="38.60" y1="444.60" x2="210.00" y2="444.60" stroke="#111" stroke-width="1.3"/>
<line x1="35.70" y1="444.60" x2="39.10" y2="444.60" stroke="#111" stroke-width="1.1"/>
<text x="0.00" y="0.00" font-size="9.4" font-weight="bold" text-anchor="end" fill="#111" transform="translate(34.90 447.90) scale(0.87 1)" stroke="#111" stroke-width="0.3">0</text>
<line x1="35.70" y1="421.78" x2="39.10" y2="421.78" stroke="#111" stroke-width="1.1"/>
<text x="0.00" y="0.00" font-size="9.4" font-weight="bold" text-anchor="end" fill="#111" transform="translate(34.90 425.08) scale(0.87 1)" stroke="#111" stroke-width="0.3">20</text>
<line x1="35.70" y1="398.96" x2="39.10" y2="398.96" stroke="#111" stroke-width="1.1"/>
<text x="0.00" y="0.00" font-size="9.4" font-weight="bold" text-anchor="end" fill="#111" transform="translate(34.90 402.26) scale(0.87 1)" stroke="#111" stroke-width="0.3">40</text>
<line x1="35.70" y1="376.14" x2="39.10" y2="376.14" stroke="#111" stroke-width="1.1"/>
<text x="0.00" y="0.00" font-size="9.4" font-weight="bold" text-anchor="end" fill="#111" transform="translate(34.90 379.44) scale(0.87 1)" stroke="#111" stroke-width="0.3">60</text>
<line x1="35.70" y1="353.32" x2="39.10" y2="353.32" stroke="#111" stroke-width="1.1"/>
<text x="0.00" y="0.00" font-size="9.4" font-weight="bold" text-anchor="end" fill="#111" transform="translate(34.90 356.62) scale(0.87 1)" stroke="#111" stroke-width="0.3">80</text>
<line x1="35.70" y1="330.50" x2="39.10" y2="330.50" stroke="#111" stroke-width="1.1"/>
<text x="0.00" y="0.00" font-size="9.4" font-weight="bold" text-anchor="end" fill="#111" transform="translate(34.90 333.80) scale(0.87 1)" stroke="#111" stroke-width="0.3">100</text>
<text x="14.00" y="387.55" font-size="9.2" font-weight="bold" text-anchor="middle" fill="#111" transform="rotate(-90 14.00 387.55)" stroke="#111" stroke-width="0.22">% specific lysis</text>
<line x1="65.00" y1="502.00" x2="199.50" y2="502.00" stroke="#111" stroke-width="1.2"/>
<line x1="65.00" y1="499.60" x2="65.00" y2="504.40" stroke="#111" stroke-width="1.2"/>
<line x1="199.50" y1="499.60" x2="199.50" y2="504.40" stroke="#111" stroke-width="1.2"/>
<text x="129.60" y="510.50" font-size="8.2" font-weight="bold" text-anchor="middle" fill="#111">Effector:Target ratio</text>
<text x="130.80" y="521.10" font-size="8.45" font-weight="bold" text-anchor="middle" fill="#111">FSME-pDCs - 20:1 - K562</text>
<text x="236.70" y="327.00" font-size="18" font-weight="bold" text-anchor="start" fill="#111">D</text>
<line x1="289.90" y1="355.29" x2="289.90" y2="352.06" stroke="#000" stroke-width="1.4"/>
<line x1="285.60" y1="352.06" x2="294.20" y2="352.06" stroke="#000" stroke-width="1.4"/>
<rect x="280.75" y="355.29" width="18.30" height="89.41" fill="#000"/>
<line x1="289.90" y1="444.70" x2="289.90" y2="447.90" stroke="#111" stroke-width="1.0"/>
<text x="290.80" y="455.70" font-size="8.6" font-weight="bold" text-anchor="end" fill="#111" transform="rotate(-45 290.80 455.70)" stroke="#111" stroke-width="0.25">K562</text>
<line x1="314.80" y1="420.97" x2="314.80" y2="408.82" stroke="#000" stroke-width="1.4"/>
<line x1="310.50" y1="408.82" x2="319.10" y2="408.82" stroke="#000" stroke-width="1.4"/>
<rect x="305.65" y="420.97" width="18.30" height="23.73" fill="#000"/>
<line x1="314.80" y1="444.70" x2="314.80" y2="447.90" stroke="#111" stroke-width="1.0"/>
<text x="315.70" y="455.70" font-size="8.6" font-weight="bold" text-anchor="end" fill="#111" transform="rotate(-45 315.70 455.70)" stroke="#111" stroke-width="0.25">Mel624</text>
<line x1="339.70" y1="409.96" x2="339.70" y2="402.94" stroke="#000" stroke-width="1.4"/>
<line x1="335.40" y1="402.94" x2="344.00" y2="402.94" stroke="#000" stroke-width="1.4"/>
<rect x="330.55" y="409.96" width="18.30" height="34.74" fill="#000"/>
<line x1="339.70" y1="444.70" x2="339.70" y2="447.90" stroke="#111" stroke-width="1.0"/>
<text x="340.60" y="455.70" font-size="8.6" font-weight="bold" text-anchor="end" fill="#111" transform="rotate(-45 340.60 455.70)" stroke="#111" stroke-width="0.25">Jurkat</text>
<line x1="364.60" y1="427.05" x2="364.60" y2="422.11" stroke="#000" stroke-width="1.4"/>
<line x1="360.30" y1="422.11" x2="368.90" y2="422.11" stroke="#000" stroke-width="1.4"/>
<rect x="355.45" y="427.05" width="18.30" height="17.65" fill="#000"/>
<line x1="364.60" y1="444.70" x2="364.60" y2="447.90" stroke="#111" stroke-width="1.0"/>
<text x="365.50" y="455.70" font-size="8.6" font-weight="bold" text-anchor="end" fill="#111" transform="rotate(-45 365.50 455.70)" stroke="#111" stroke-width="0.25">Glioma</text>
<line x1="389.50" y1="349.21" x2="389.50" y2="344.85" stroke="#000" stroke-width="1.4"/>
<line x1="385.20" y1="344.85" x2="393.80" y2="344.85" stroke="#000" stroke-width="1.4"/>
<rect x="380.35" y="349.21" width="18.30" height="95.49" fill="#000"/>
<line x1="389.50" y1="444.70" x2="389.50" y2="447.90" stroke="#111" stroke-width="1.0"/>
<text x="390.40" y="455.70" font-size="8.6" font-weight="bold" text-anchor="end" fill="#111" transform="rotate(-45 390.40 455.70)" stroke="#111" stroke-width="0.25">Daudi</text>
<line x1="277.20" y1="330.30" x2="277.20" y2="445.20" stroke="#111" stroke-width="1.3"/>
<line x1="276.70" y1="444.70" x2="401.80" y2="444.70" stroke="#111" stroke-width="1.3"/>
<line x1="273.80" y1="444.70" x2="277.20" y2="444.70" stroke="#111" stroke-width="1.1"/>
<text x="0.00" y="0.00" font-size="9.4" font-weight="bold" text-anchor="end" fill="#111" transform="translate(273.00 448.00) scale(0.87 1)" stroke="#111" stroke-width="0.3">0</text>
<line x1="273.80" y1="406.73" x2="277.20" y2="406.73" stroke="#111" stroke-width="1.1"/>
<text x="0.00" y="0.00" font-size="9.4" font-weight="bold" text-anchor="end" fill="#111" transform="translate(273.00 410.03) scale(0.87 1)" stroke="#111" stroke-width="0.3">20</text>
<line x1="273.80" y1="368.77" x2="277.20" y2="368.77" stroke="#111" stroke-width="1.1"/>
<text x="0.00" y="0.00" font-size="9.4" font-weight="bold" text-anchor="end" fill="#111" transform="translate(273.00 372.07) scale(0.87 1)" stroke="#111" stroke-width="0.3">40</text>
<line x1="273.80" y1="330.80" x2="277.20" y2="330.80" stroke="#111" stroke-width="1.1"/>
<text x="0.00" y="0.00" font-size="9.4" font-weight="bold" text-anchor="end" fill="#111" transform="translate(273.00 334.10) scale(0.87 1)" stroke="#111" stroke-width="0.3">60</text>
<text x="256.50" y="387.75" font-size="9.2" font-weight="bold" text-anchor="middle" fill="#111" transform="rotate(-90 256.50 387.75)" stroke="#111" stroke-width="0.22">% specific lysis</text>
<text x="337.30" y="489.80" font-size="8.5" font-weight="bold" text-anchor="middle" fill="#111">Effector:Target ratio</text>
<text x="337.00" y="500.20" font-size="8.5" font-weight="bold" text-anchor="middle" fill="#111">20:1</text>
</svg>
</body>
</html>
